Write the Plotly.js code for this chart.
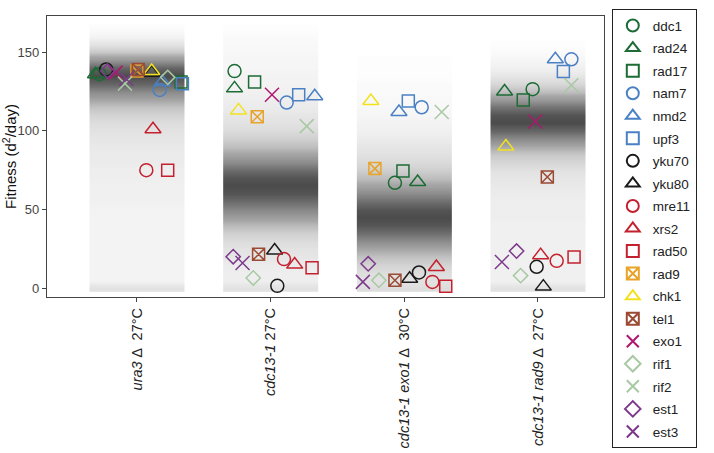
<!DOCTYPE html>
<html>
<head>
<meta charset="utf-8">
<script src="https://cdn.plot.ly/plotly-3.0.1.min.js"></script>
<style>html,body{margin:0;padding:0;background:#fff}#chart{width:714px;height:453px}</style>
</head>
<body>
<div id="chart"></div>
<script>
// ---- categories / tick labels ----
var groupLabels = [
  "<i>ura3</i> \u2206  27°C",
  "<i>cdc13-1</i> 27°C",
  "<i>cdc13-1 exo1</i> \u2206  30°C",
  "<i>cdc13-1 rad9</i> \u2206  27°C"
];
var groupPos = [1, 2, 3, 4];

// ---- background cloud: relative point density per fitness bin ----
var binCenters = [0,5,10,15,20,25,30,35,40,45,50,55,60,65,70,75,80,85,90,95,100,105,110,115,120,125,130,135,140,145,150,155,160,165,170];
var densUra3 = [0.12,0.05,0.05,0.05,0.05,0.05,0.05,0.05,0.05,0.05,0.05,0.06,0.06,0.06,0.07,0.07,0.08,0.08,0.09,0.10,0.12,0.15,0.20,0.28,0.40,0.60,0.85,1.00,0.85,0.50,0.25,0.12,0.05,0.02,0.00];
var densCdc13 = [0.12,0.07,0.07,0.08,0.10,0.12,0.16,0.22,0.32,0.45,0.62,0.80,0.95,1.00,0.95,0.80,0.60,0.42,0.30,0.22,0.16,0.12,0.10,0.08,0.07,0.06,0.05,0.05,0.04,0.04,0.03,0.03,0.02,0.01,0.00];
var densExo1 = [0.15,0.12,0.15,0.20,0.28,0.40,0.60,0.80,0.95,1.00,0.95,0.80,0.60,0.42,0.30,0.22,0.17,0.13,0.10,0.08,0.06,0.05,0.04,0.03,0.03,0.02,0.02,0.01,0.01,0.01,0.00,0.00,0.00,0.00,0.00];
var densRad9 = [0.12,0.06,0.06,0.06,0.06,0.06,0.06,0.06,0.06,0.07,0.07,0.07,0.08,0.09,0.10,0.13,0.18,0.25,0.38,0.60,0.85,1.00,0.95,0.75,0.50,0.30,0.18,0.10,0.06,0.04,0.02,0.01,0.00,0.00,0.00];
var cloudDensities = [densUra3, densCdc13, densExo1, densRad9];

// ---- gene names (legend order) ----
var genes = ["ddc1","rad24","rad17","nam7","nmd2","upf3","yku70","yku80","mre11","xrs2","rad50","rad9","chk1","tel1","exo1","rif1","rif2","est1","est3"];

// ---- fitness per gene in each background [ura3, cdc13-1, cdc13-1 exo1, cdc13-1 rad9] ----
var fit_ddc1  = [136, 138, 67, 126.5];
var fit_rad24 = [136, 127, 67.5, 125];
var fit_rad17 = [131, 131, 74.5, 119.6];
var fit_nam7  = [126, 118, 115, 145.5];
var fit_nmd2  = [131, 122, 112, 145.5];
var fit_upf3  = [130, 123, 119, 137.8];
var fit_yku70 = [139, 1.5, 10, 13.6];
var fit_yku80 = [137, 24, 6, 1];
var fit_mre11 = [75, 18.5, 4, 17.4];
var fit_xrs2  = [101, 15, 13.5, 21];
var fit_rad50 = [75, 13, 1.2, 19.8];
var fit_rad9  = [138, 109, 76, null];
var fit_chk1  = [138, 113, 119, 90];
var fit_tel1  = [139, 21.5, 5, 70.7];
var fit_exo1  = [137, 123, null, 106];
var fit_rif1  = [134, 6.5, 5, 8];
var fit_rif2  = [130, 103, 112, 129];
var fit_est1  = [138, 20, 15.5, 23.6];
var fit_est3  = [133, 16, 4, 16.7];

// ---- horizontal jitter of each gene marker within its group (category units) ----
var jit_ddc1  = [-0.28, -0.27, -0.07, -0.04];
var jit_rad24 = [-0.31, -0.27, 0.10, -0.25];
var jit_rad17 = [0.33, -0.12, -0.01, -0.11];
var jit_nam7  = [0.17, 0.12, 0.13, 0.25];
var jit_nmd2  = [0.19, 0.33, -0.04, 0.13];
var jit_upf3  = [0.34, 0.21, 0.03, 0.19];
var jit_yku70 = [-0.23, 0.05, 0.11, -0.01];
var jit_yku80 = [0.11, 0.03, 0.04, 0.04];
var jit_mre11 = [0.07, 0.10, 0.21, 0.14];
var jit_xrs2  = [0.12, 0.18, 0.24, 0.02];
var jit_rad50 = [0.23, 0.31, 0.31, 0.27];
var jit_rad9  = [0.00, -0.10, -0.22, 0];
var jit_chk1  = [0.11, -0.24, -0.25, -0.24];
var jit_tel1  = [0.01, -0.09, -0.07, 0.07];
var jit_exo1  = [-0.16, 0.01, 0, -0.02];
var jit_rif1  = [0.23, -0.13, -0.19, -0.13];
var jit_rif2  = [-0.09, 0.27, 0.28, 0.25];
var jit_est1  = [-0.22, -0.28, -0.27, -0.16];
var jit_est3  = [-0.08, -0.21, -0.31, -0.27];

var fitness = {ddc1:fit_ddc1,rad24:fit_rad24,rad17:fit_rad17,nam7:fit_nam7,nmd2:fit_nmd2,upf3:fit_upf3,yku70:fit_yku70,yku80:fit_yku80,mre11:fit_mre11,xrs2:fit_xrs2,rad50:fit_rad50,rad9:fit_rad9,chk1:fit_chk1,tel1:fit_tel1,exo1:fit_exo1,rif1:fit_rif1,rif2:fit_rif2,est1:fit_est1,est3:fit_est3};
var jitter = {ddc1:jit_ddc1,rad24:jit_rad24,rad17:jit_rad17,nam7:jit_nam7,nmd2:jit_nmd2,upf3:jit_upf3,yku70:jit_yku70,yku80:jit_yku80,mre11:jit_mre11,xrs2:jit_xrs2,rad50:jit_rad50,rad9:jit_rad9,chk1:jit_chk1,tel1:jit_tel1,exo1:jit_exo1,rif1:jit_rif1,rif2:jit_rif2,est1:jit_est1,est3:jit_est3};

// ---- styles ----
var GREEN = "#1d6b35", BLUE = "#4a80c4", BLACK = "#1a1a1a", RED = "#c4202e",
    ORANGE = "#e8a32a", YELLOW = "#f2e21e", BROWN = "#9b4a34", MAGENTA = "#b0186f",
    LIGHT = "#a9c9a4", PURPLE = "#7d3a8c";
var style = {
  ddc1:["circle-open",GREEN,13], rad24:["triangle-up-open",GREEN,14], rad17:["square-open",GREEN,12],
  nam7:["circle-open",BLUE,13], nmd2:["triangle-up-open",BLUE,14], upf3:["square-open",BLUE,12],
  yku70:["circle-open",BLACK,13], yku80:["triangle-up-open",BLACK,14],
  mre11:["circle-open",RED,13], xrs2:["triangle-up-open",RED,14], rad50:["square-open",RED,12],
  rad9:["square-x-open",ORANGE,12], chk1:["triangle-up-open",YELLOW,14], tel1:["square-x-open",BROWN,12],
  exo1:["x-thin-open",MAGENTA,14], rif1:["diamond-open",LIGHT,11], rif2:["x-thin-open",LIGHT,14],
  est1:["diamond-open",PURPLE,11], est3:["x-thin-open",PURPLE,14]
};

var traces = [];
var halfW = 0.355;
groupPos.forEach(function(g, i){
  traces.push({
    type: "heatmap",
    x: [g - halfW/2, g + halfW/2],
    y: binCenters,
    z: cloudDensities[i].map(function(v){return [v, v];}),
    zsmooth: "best",
    zmin: 0, zmax: 1,
    colorscale: [[0,"rgba(150,150,150,0)"],[0.1,"rgba(140,140,140,0.22)"],[0.4,"rgba(105,105,105,0.6)"],[1,"rgba(60,60,60,0.92)"]],
    showscale: false, hoverinfo: "skip", showlegend: false
  });
});
genes.forEach(function(gn){
  var s = style[gn];
  traces.push({
    type: "scatter", mode: "markers", name: gn, legendgroup: gn,
    x: groupPos.map(function(g, i){ return g + jitter[gn][i]; }),
    y: fitness[gn],
    marker: {symbol: s[0], color: s[1], size: s[2], line: {width: 1.5, color: s[1]}}
  });
});

var layout = {
  width: 714, height: 453,
  margin: {l: 47, r: 110, t: 9, b: 156},
  paper_bgcolor: "#fff", plot_bgcolor: "#fff",
  font: {family: "Arial, Liberation Sans, sans-serif", size: 13, color: "#222"},
  showlegend: true,
  legend: {
    x: 1.014, y: 1.024, xanchor: "left", yanchor: "top",
    bordercolor: "#222", borderwidth: 1, bgcolor: "#fff",
    font: {size: 13.5, color: "#222"}, tracegroupgap: 2, itemsizing: "constant",
    maxheight: 450, itemwidth: 30
  },
  xaxis: {
    range: [0.327, 4.494], tickvals: groupPos, ticktext: groupLabels, tickangle: -90,
    showgrid: false, zeroline: false, showline: true, mirror: true, linecolor: "#444", linewidth: 1.2,
    ticks: "outside", ticklen: 4, tickcolor: "#444",
    tickfont: {size: 14.5, color: "#222"}
  },
  yaxis: {
    range: [-5.6, 173], tickvals: [0, 50, 100, 150],
    showgrid: false, zeroline: false, showline: true, mirror: true, linecolor: "#444", linewidth: 1.2,
    ticks: "outside", ticklen: 4, tickcolor: "#444",
    tickfont: {size: 13, color: "#444"},
    title: {text: "Fitness (d<sup>2</sup>/day)", font: {size: 15, color: "#111"}, standoff: 4}
  }
};
Plotly.newPlot("chart", traces, layout, {displayModeBar: false, staticPlot: true});
</script>
</body>
</html>
